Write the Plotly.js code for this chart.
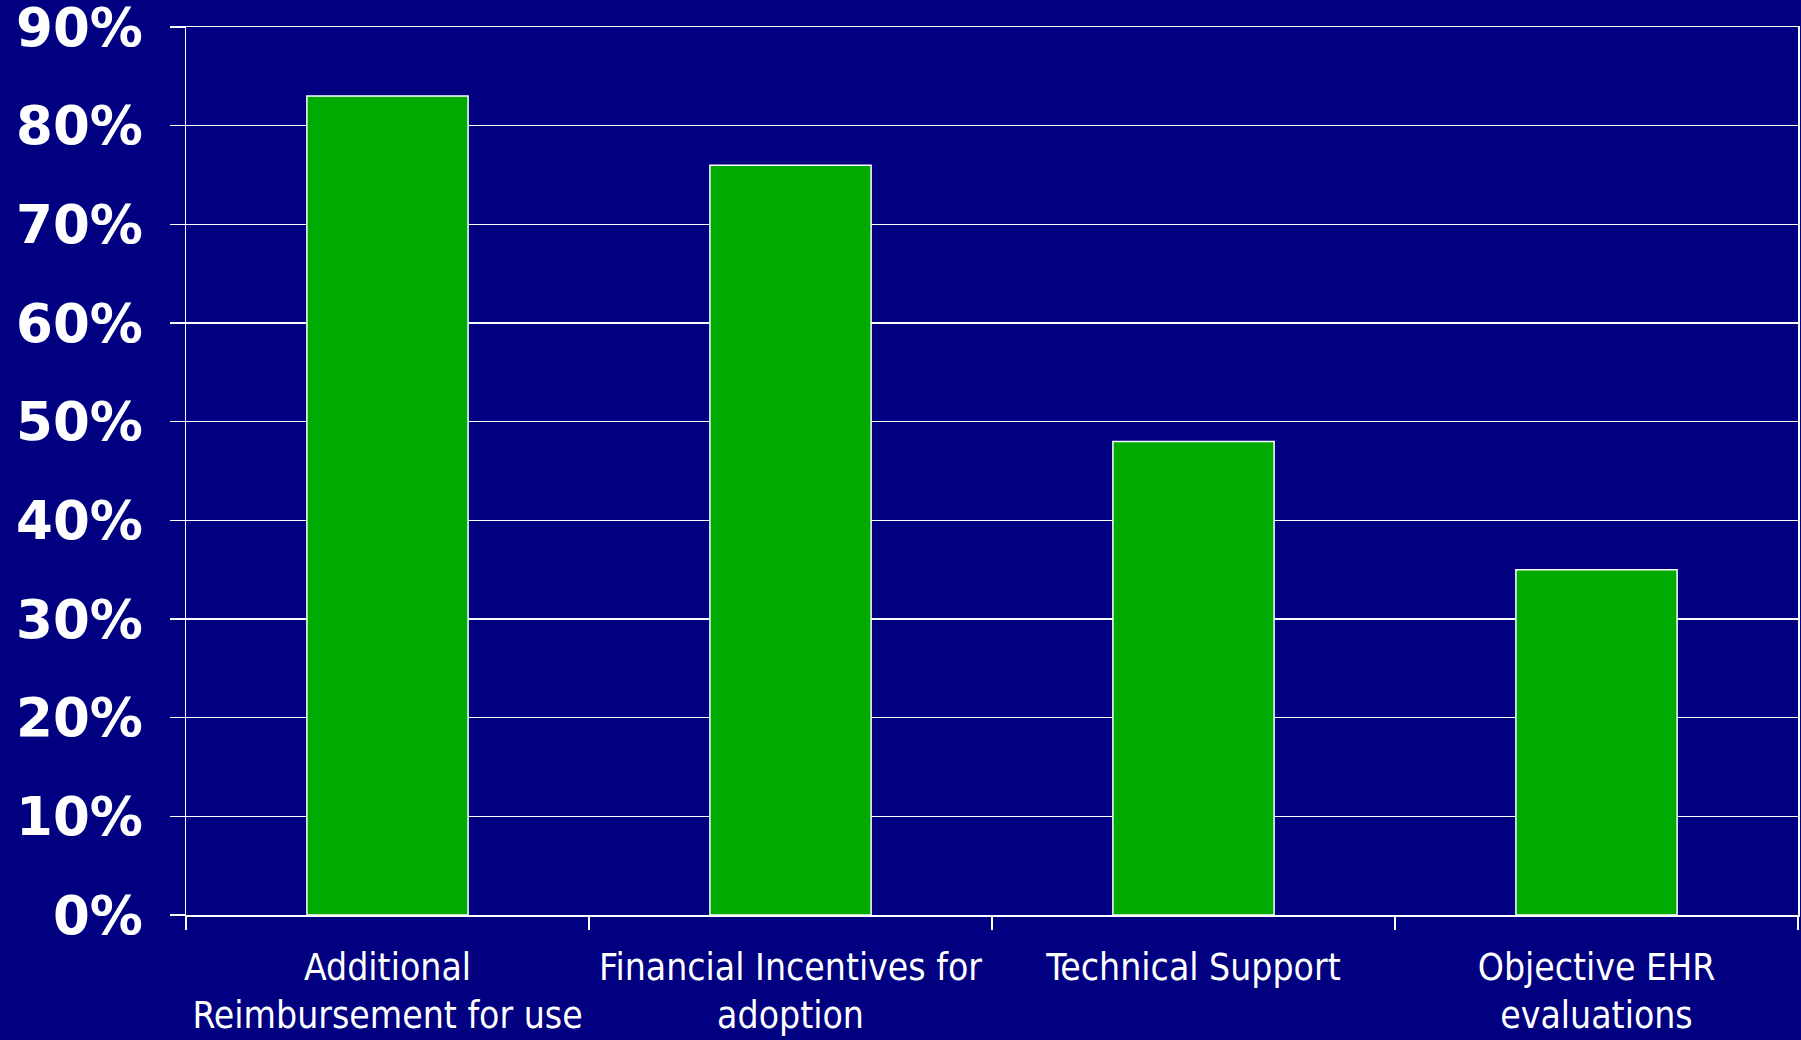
<!DOCTYPE html>
<html>
<head>
<meta charset="utf-8">
<script src="https://cdn.plot.ly/plotly-3.0.1.min.js"></script>
<style>
  html, body { margin: 0; padding: 0; background: #000080; }
  #chart { width: 1801px; height: 1040px; }
</style>
</head>
<body>
<div id="chart"></div>
<script>
const categories = [
  "Additional<br>Reimbursement for use",
  "Financial Incentives for<br>adoption",
  "Technical Support",
  "Objective EHR<br>evaluations"
];
const values = [0.83, 0.76, 0.48, 0.35];
const yTickValues = [0, 0.1, 0.2, 0.3, 0.4, 0.5, 0.6, 0.7, 0.8, 0.9];
const yTickLabels = ["0%", "10%", "20%", "30%", "40%", "50%", "60%", "70%", "80%", "90%"];

const trace = {
  type: "bar",
  x: categories,
  y: values,
  width: 0.4,
  marker: { color: "#00AA00", line: { color: "#FFFFFF", width: 1.5 } },
  hoverinfo: "skip"
};

const layout = {
  width: 1801,
  height: 1040,
  paper_bgcolor: "#000080",
  plot_bgcolor: "#000080",
  margin: { l: 186, r: 3, t: 27, b: 125 },
  showlegend: false,
  bargap: 0.6,
  xaxis: {
    type: "category",
    tickson: "boundaries",
    ticks: "outside",
    ticklen: 13,
    tickwidth: 1.5,
    tickcolor: "#FFFFFF",
    showline: true,
    linecolor: "#FFFFFF",
    linewidth: 1.5,
    mirror: true,
    showgrid: false,
    tickfont: { family: "DejaVu Sans Condensed", size: 37, color: "#FFFFFF" },
    tickangle: 0,
    ticklabelstandoff: 19,
    automargin: false
  },
  yaxis: {
    range: [0, 0.9],
    tickvals: yTickValues,
    ticktext: yTickLabels,
    ticks: "outside",
    ticklen: 15,
    tickwidth: 1.5,
    tickcolor: "#FFFFFF",
    showline: true,
    linecolor: "#FFFFFF",
    linewidth: 1.5,
    mirror: true,
    showgrid: true,
    gridcolor: "#FFFFFF",
    gridwidth: 1.5,
    zeroline: false,
    tickfont: { family: "DejaVu Sans", size: 53, color: "#FFFFFF", weight: "bold" },
    ticklabelstandoff: 16,
    ticklabeloverflow: "allow",
    automargin: false
  }
};

Plotly.newPlot("chart", [trace], layout, { displayModeBar: false, staticPlot: true });
</script>
</body>
</html>
